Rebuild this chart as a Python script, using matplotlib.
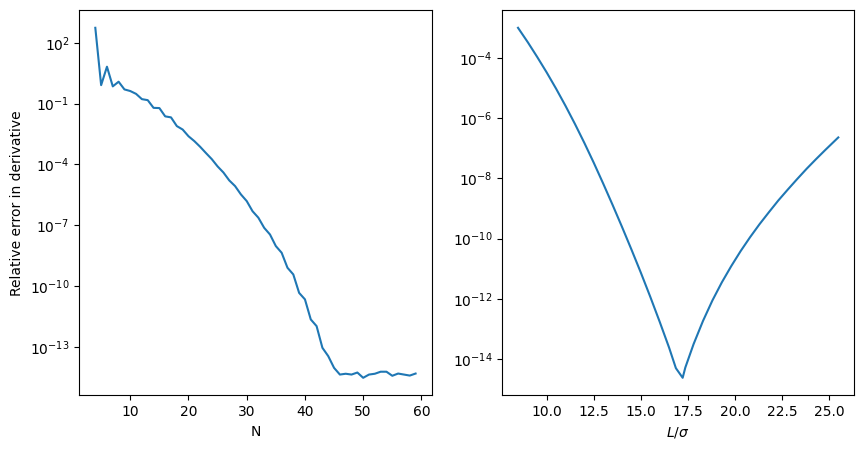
import numpy as np
import matplotlib
matplotlib.use("Agg")
import matplotlib.pyplot as plt

# left panel: relative error vs number of terms N (log10 of error)
N = list(range(4, 60))
log_err_N = [2.74, -0.09, 0.82, -0.15, 0.08, -0.30, -0.38, -0.52, -0.78, -0.83,
             -1.21, -1.22, -1.63, -1.68, -2.11, -2.28, -2.61, -2.85, -3.13, -3.44,
             -3.74, -4.10, -4.40, -4.79, -5.07, -5.48, -5.81, -6.31, -6.63, -7.13,
             -7.46, -8.03, -8.36, -9.10, -9.43, -10.34, -10.66, -11.65, -11.98, -13.05,
             -13.46, -14.04, -14.37, -14.33, -14.37, -14.27, -14.53, -14.37, -14.33, -14.23,
             -14.23, -14.43, -14.32, -14.37, -14.42, -14.32]

# right panel: relative error vs L/sigma
L_sigma = [8.48, 9.00, 9.50, 10.00, 10.50, 11.00, 11.50, 12.00, 12.50, 13.00,
           13.50, 14.00, 14.50, 15.00, 15.50, 16.00, 16.50, 16.86, 17.22, 17.36,
           17.80, 18.30, 18.80, 19.30, 19.80, 20.30, 20.80, 21.30, 21.80, 22.30,
           22.80, 23.30, 23.80, 24.30, 24.80, 25.48]
log_err_L = [-3.00, -3.48, -3.97, -4.48, -5.02, -5.59, -6.19, -6.82, -7.48, -8.17,
             -8.88, -9.61, -10.36, -11.13, -11.93, -12.76, -13.62, -14.30, -14.62, -14.28,
             -13.50, -12.73, -12.05, -11.45, -10.91, -10.41, -9.95, -9.52, -9.12, -8.73,
             -8.37, -8.02, -7.68, -7.36, -7.05, -6.64]

err_N = 10.0 ** np.array(log_err_N)
err_L = 10.0 ** np.array(log_err_L)

W, H = 863, 449
fig = plt.figure(figsize=(W / 100, H / 100), dpi=100)
ax1 = fig.add_axes([79.3 / W, (H - 395.3) / H, 352.3 / W, 385 / H])
ax2 = fig.add_axes([502.0 / W, (H - 395.3) / H, 352.3 / W, 385 / H])

ax1.semilogy(N, err_N)
ax1.set_xlabel('N')
ax1.set_ylabel('Relative error in derivative')

ax2.semilogy(L_sigma, err_L)
ax2.set_xlabel(r'$L/\sigma$')

fig.savefig('out.png', dpi=100)
